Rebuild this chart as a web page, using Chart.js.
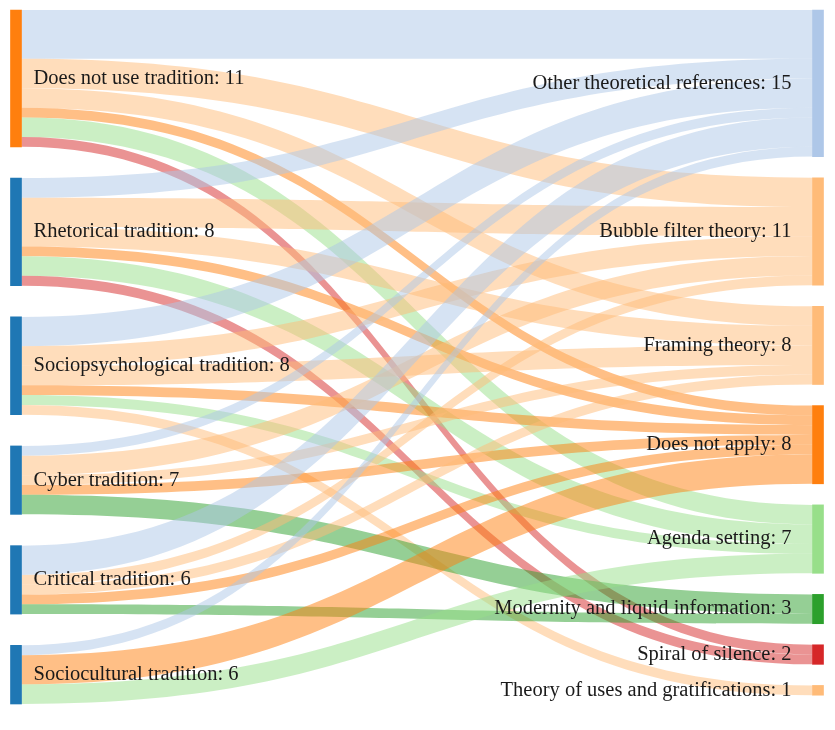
<!DOCTYPE html>
<html>
<head>
<meta charset="utf-8">
<script src="https://cdn.jsdelivr.net/npm/chart.js@4.4.1/dist/chart.umd.min.js"></script>
<style>
  body { margin: 0; background: #fff; }
  canvas { display: block; }
</style>
</head>
<body>
<canvas id="sankey" width="835" height="730"></canvas>
<script>
// left column (traditions) and the count shown in each label
const sources = ['Does not use tradition', 'Rhetorical tradition', 'Sociopsychological tradition',
  'Cyber tradition', 'Critical tradition', 'Sociocultural tradition'];
const sourceCounts = [11, 8, 8, 7, 6, 6];

// right column (theories)
const targets = ['Other theoretical references', 'Bubble filter theory', 'Framing theory', 'Does not apply',
  'Agenda setting', 'Modernity and liquid information', 'Spiral of silence', 'Theory of uses and gratifications'];

// flows from each tradition into the targets above (same order)
const doesNotUse    = [5, 3, 2, 1, 2, 0, 1, 0];
const rhetorical    = [2, 3, 2, 1, 2, 0, 1, 0];
const sociopsych    = [3, 2, 2, 1, 1, 0, 0, 1];
const cyber         = [1, 2, 1, 1, 0, 2, 0, 0];
const critical      = [3, 1, 1, 1, 0, 1, 0, 0];
const sociocultural = [1, 0, 0, 3, 2, 0, 0, 0];
const flows = [doesNotUse, rhetorical, sociopsych, cyber, critical, sociocultural];

const sourceColors = ['#ff7f0e', '#1f77b4', '#1f77b4', '#1f77b4', '#1f77b4', '#1f77b4'];
const targetColors = ['#aec7e8', '#ffbb78', '#ffbb78', '#ff7f0e', '#98df8a', '#2ca02c', '#d62728', '#ffbb78'];

// ---- layout in value units (stacked columns, justified) ----
const yMax = 71;
const sum = a => a.reduce((s, v) => s + v, 0);
const srcTotals = flows.map(sum);
const tgtTotals = targets.map((_, j) => sum(flows.map(r => r[j])));

function stack(totals, span) {
  const gap = (span - sum(totals)) / (totals.length - 1);
  let y = 0;
  return totals.map(t => { const r = [y, y + t]; y += t + gap; return r; });
}
const srcNodes = stack(srcTotals, yMax);
const tgtNodes = stack(tgtTotals, yMax - 0.9);

// link endpoints: source side ordered by target, target side ordered by source
const links = [];
const tgtOffset = tgtNodes.map(n => n[0]);
const srcOffset = srcNodes.map(n => n[0]);
const tgtStart = {};
for (let j = 0; j < targets.length; j++) {
  for (let i = 0; i < sources.length; i++) {
    const v = flows[i][j];
    if (!v) continue;
    tgtStart[i + '_' + j] = tgtOffset[j];
    tgtOffset[j] += v;
  }
}
for (let i = 0; i < sources.length; i++) {
  for (let j = 0; j < targets.length; j++) {
    const v = flows[i][j];
    if (!v) continue;
    links.push({ s0: srcOffset[i], s1: srcOffset[i] + v, t0: tgtStart[i + '_' + j], t1: tgtStart[i + '_' + j] + v, color: targetColors[j] });
    srcOffset[i] += v;
  }
}

function hexA(hex, a) {
  const n = parseInt(hex.slice(1), 16);
  return `rgba(${n >> 16}, ${(n >> 8) & 255}, ${n & 255}, ${a})`;
}

const NODE_W = 11;

const sankeyPlugin = {
  id: 'sankey',
  beforeDatasetsDraw(chart) {
    const { ctx, scales: { x, y } } = chart;
    const x0 = x.getPixelForValue(0) + NODE_W / 2;
    const x1 = x.getPixelForValue(1) - NODE_W / 2;
    const xm = (x0 + x1) / 2;
    ctx.save();
    links.forEach(l => {
      const a = y.getPixelForValue(l.s0), b = y.getPixelForValue(l.s1);
      const c = y.getPixelForValue(l.t0), d = y.getPixelForValue(l.t1);
      ctx.beginPath();
      ctx.moveTo(x0, a);
      ctx.bezierCurveTo(xm, a, xm, c, x1, c);
      ctx.lineTo(x1, d);
      ctx.bezierCurveTo(xm, d, xm, b, x0, b);
      ctx.closePath();
      ctx.fillStyle = hexA(l.color, 0.5);
      ctx.fill();
    });
    ctx.restore();
  },
  afterDatasetsDraw(chart) {
    const { ctx, scales: { x, y } } = chart;
    ctx.save();
    ctx.font = '20.5px "Liberation Serif", "DejaVu Serif", serif';
    ctx.fillStyle = '#1a1a1a';
    ctx.textBaseline = 'middle';
    ctx.textAlign = 'left';
    sources.forEach((s, i) => {
      const cy = y.getPixelForValue((srcNodes[i][0] + srcNodes[i][1]) / 2);
      ctx.fillText(`${s}: ${sourceCounts[i]}`, x.getPixelForValue(0) + NODE_W / 2 + 12, cy);
    });
    ctx.textAlign = 'right';
    targets.forEach((t, j) => {
      const cy = y.getPixelForValue((tgtNodes[j][0] + tgtNodes[j][1]) / 2);
      ctx.fillText(`${t}: ${tgtTotals[j]}`, x.getPixelForValue(1) - NODE_W / 2 - 21, cy);
    });
    ctx.restore();
  }
};

const nodeData = srcNodes.map(n => ({ x: 0, y: n })).concat(tgtNodes.map(n => ({ x: 1, y: n })));

new Chart(document.getElementById('sankey'), {
  type: 'bar',
  data: {
    datasets: [{
      data: nodeData,
      backgroundColor: sourceColors.concat(targetColors),
      barThickness: NODE_W,
      borderWidth: 0,
      clip: false
    }]
  },
  options: {
    responsive: false,
    animation: false,
    devicePixelRatio: 1,
    layout: { padding: { left: 16, right: 17, top: 10, bottom: 26 } },
    plugins: { legend: { display: false }, tooltip: { enabled: false } },
    scales: {
      x: { type: 'linear', min: 0, max: 1, offset: false, display: false },
      y: { type: 'linear', min: 0, max: yMax, reverse: true, display: false }
    }
  },
  plugins: [sankeyPlugin]
});
</script>
</body>
</html>
